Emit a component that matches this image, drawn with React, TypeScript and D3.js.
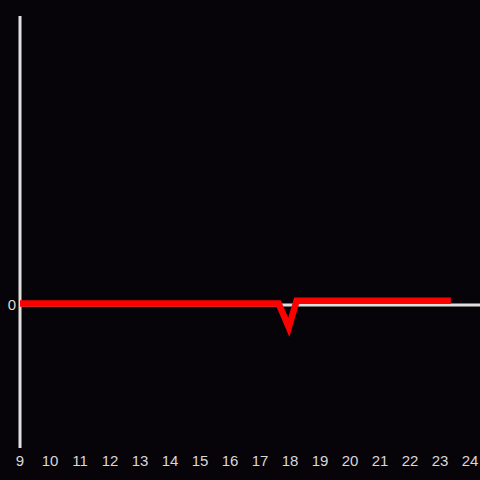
import React from "react";
import * as d3 from "d3";

const hours = [9, 17.62, 17.96, 18.22, 23.36];
const values = [0.01, 0.01, -0.155, 0.03, 0.03];
const xTicks = [9, 10, 11, 12, 13, 14, 15, 16, 17, 18, 19, 20, 21, 22, 23, 24];
const yTicks = [0];

export default function App() {
  const W = 480, H = 480;
  const x = d3.scaleLinear().domain([9, 24]).range([20, 470]);
  const y = d3.scaleLinear().domain([-1, 2]).range([449, 17]);
  const pts = hours.map((h, i) => [x(h), y(values[i])] as [number, number]);
  const line = d3.line().x(d => d[0]).y(d => d[1]);
  const font = "'Liberation Sans', Arial, sans-serif";
  return (
    <svg width={W} height={H} style={{ position: "absolute", left: 0, top: 0, background: "#060408" }}>
      <rect x={0} y={0} width={W} height={H} fill="#060408" />
      <line x1={x(9)} x2={W} y1={y(0)} y2={y(0)} stroke="#e0e0e0" strokeWidth={3} />
      <line x1={x(9)} x2={x(9)} y1={16} y2={448} stroke="#e0e0e0" strokeWidth={3} />
      <path d={line(pts) || ""} fill="none" stroke="#ff0000" strokeWidth={6.5} strokeLinejoin="miter" strokeMiterlimit={10} />
      {yTicks.map(t => (
        <text key={t} x={16} y={y(t)} dy="0.35em" textAnchor="end" fill="#d8d8d8" fontSize={15} fontFamily={font}>{t}</text>
      ))}
      {xTicks.map(t => (
        <text key={t} x={x(t)} y={461} dy="0.35em" textAnchor="middle" fill="#d8d8d8" fontSize={15} fontFamily={font}>{t}</text>
      ))}
    </svg>
  );
}
